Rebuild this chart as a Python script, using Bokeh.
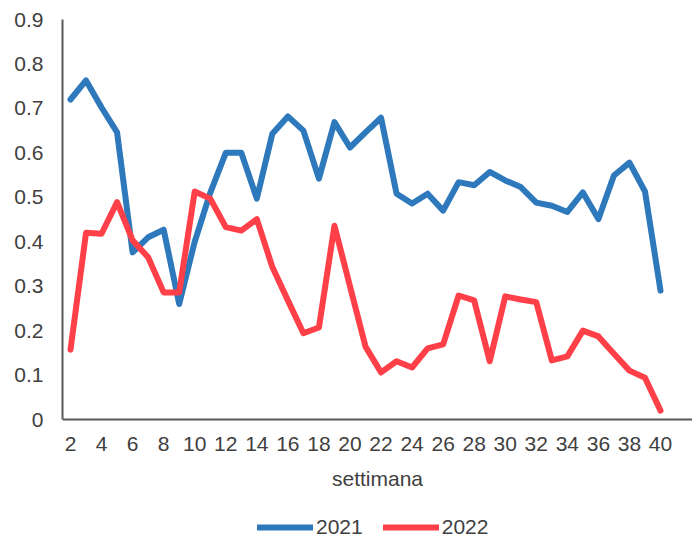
from bokeh.plotting import figure
from bokeh.models import Range1d, FixedTicker, CustomJSTickFormatter, Legend, LegendItem
from bokeh.embed import file_html
from bokeh.resources import INLINE

weeks = list(range(2, 41))
y2021 = [0.72, 0.763, 0.702, 0.646, 0.376, 0.41, 0.427, 0.26, 0.40, 0.51,
         0.60, 0.60, 0.497, 0.643, 0.682, 0.65, 0.542, 0.669, 0.612, 0.646,
         0.679, 0.508, 0.486, 0.508, 0.470, 0.534, 0.527, 0.557, 0.538, 0.523,
         0.488, 0.481, 0.467, 0.511, 0.451, 0.549, 0.578, 0.513, 0.29]
y2022 = [0.157, 0.42, 0.418, 0.489, 0.403, 0.365, 0.286, 0.286, 0.513, 0.497,
         0.433, 0.425, 0.451, 0.343, 0.268, 0.194, 0.207, 0.436, 0.30, 0.164,
         0.106, 0.131, 0.117, 0.16, 0.169, 0.279, 0.268, 0.131, 0.277, 0.27,
         0.264, 0.133, 0.142, 0.20, 0.187, 0.148, 0.11, 0.094, 0.02]
x_ticks = list(range(2, 41, 2))
y_ticks = [0, 0.1, 0.2, 0.3, 0.4, 0.5, 0.6, 0.7, 0.8, 0.9]
series_names = ["2021", "2022"]
x_title = "settimana"

BLUE = "#2E78BC"
RED = "#FF4048"
TXT = "#404040"
FONT = "Liberation Sans"
FS = "21px"

# frame spans the full height below the top border; the area under y=0
# holds the x axis (fixed at 0) and the legend
p = figure(width=692, height=537, output_backend="svg",
           toolbar_location=None, x_range=Range1d(1.485, 42.06),
           y_range=Range1d(-0.2655, 0.9),
           min_border_left=62, min_border_top=19, min_border_right=0,
           min_border_bottom=0)
p.outline_line_color = None
p.xgrid.visible = False
p.ygrid.visible = False

r1 = p.line(weeks, y2021, line_color=BLUE, line_width=6, line_join="round", line_cap="round")
r2 = p.line(weeks, y2022, line_color=RED, line_width=6, line_join="round", line_cap="round")

for ax in (p.xaxis[0], p.yaxis[0]):
    ax.axis_line_color = "#595959"
    ax.axis_line_width = 2
    ax.major_tick_line_color = None
    ax.minor_tick_line_color = None
    ax.major_tick_out = 0
    ax.major_tick_in = 0
    ax.major_label_text_font = FONT
    ax.major_label_text_font_size = FS
    ax.major_label_text_color = TXT

p.xaxis.fixed_location = 0
p.yaxis.bounds = (0, 0.9)
p.xaxis.ticker = FixedTicker(ticks=x_ticks)
p.yaxis.ticker = FixedTicker(ticks=y_ticks)
p.yaxis.formatter = CustomJSTickFormatter(code="return String(Math.round(tick*10)/10);")
p.yaxis.major_label_standoff = 19
p.xaxis.major_label_standoff = 17
p.xaxis.axis_label = x_title
p.xaxis.axis_label_text_font = FONT
p.xaxis.axis_label_text_font_size = FS
p.xaxis.axis_label_text_font_style = "normal"
p.xaxis.axis_label_text_color = TXT
p.xaxis.axis_label_standoff = 13

legend = Legend(items=[LegendItem(label=series_names[0], renderers=[r1]),
                       LegendItem(label=series_names[1], renderers=[r2])],
                orientation="horizontal", location=(195, -2),
                glyph_width=56, glyph_height=20, label_standoff=3, spacing=20,
                padding=0, margin=0, border_line_color=None,
                background_fill_alpha=0,
                label_text_font=FONT, label_text_font_size=FS,
                label_text_color=TXT, label_height=20)
p.add_layout(legend, "center")

open("out.html", "w").write(file_html(p, INLINE))
